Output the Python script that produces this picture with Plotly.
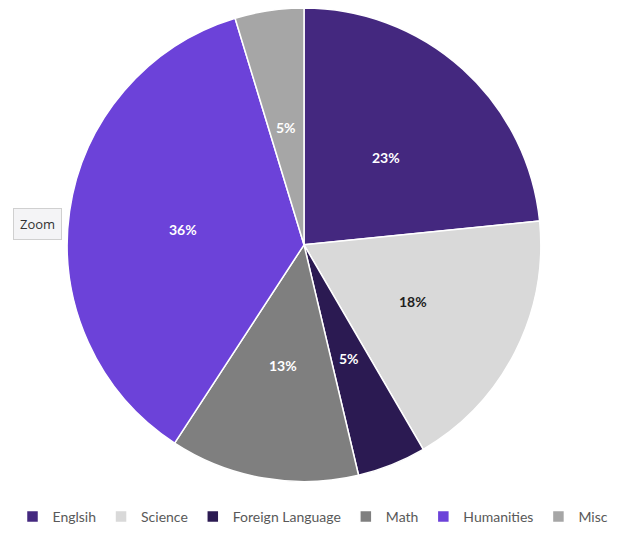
import numpy as np
import plotly.graph_objects as go

categories = ["Englsih", "Science", "Foreign Language", "Math", "Humanities", "Misc"]
values = [23.4, 18.2, 4.7, 12.9, 36.1, 4.7]
colors = ["#44287f", "#d9d9d9", "#2b1a52", "#7f7f7f", "#6c42d9", "#a6a6a6"]
text_colors = ["white", "#1e1e1e", "white", "white", "white", "white"]

W, H = 610, 525  # page has an 8px body margin
dom_x = [56 / W, 536 / W]
dom_y = [1 - 480 / H, 1.0]

fig = go.Figure(go.Pie(
    labels=categories,
    values=values,
    sort=False,
    direction="clockwise",
    rotation=0,
    marker=dict(colors=colors, line=dict(color="white", width=1.5)),
    textinfo="none",
    hoverinfo="label+percent",
    domain=dict(x=dom_x, y=dom_y),
))

# Data labels placed at about half the radius, along each slice's mid-angle
vals = np.array(values, dtype=float)
frac = vals / vals.sum()
mid = (np.cumsum(frac) - frac / 2) * 2 * np.pi  # clockwise from 12 o'clock
cx_px = (dom_x[0] + dom_x[1]) / 2 * W
cy_px = (1 - (dom_y[0] + dom_y[1]) / 2) * H
r_px = min((dom_x[1] - dom_x[0]) * W, (dom_y[1] - dom_y[0]) * H) / 2
label_r = 0.51 * r_px

annotations = []
for f, a, tc in zip(frac, mid, text_colors):
    px = cx_px + label_r * np.sin(a)
    py = cy_px - label_r * np.cos(a) + 2
    annotations.append(dict(
        x=px / W, y=1 - py / H, xref="paper", yref="paper",
        xanchor="center", yanchor="middle", showarrow=False,
        text=f"<b>{round(f * 100):.0f}%</b>",
        font=dict(family="Lato", size=14, color=tc),
    ))

annotations.append(dict(
    x=29 / W, y=1 - 219 / H, xref="paper", yref="paper",
    xanchor="center", yanchor="middle",
    text="Zoom", showarrow=False,
    font=dict(family="Open Sans", size=13, color="#333333"),
    bgcolor="#f4f4f6", bordercolor="#d0d0d0", borderwidth=1, borderpad=6,
))

fig.update_layout(
    width=W, height=H,
    margin=dict(l=0, r=0, t=0, b=0),
    paper_bgcolor="white",
    plot_bgcolor="white",
    showlegend=True,
    legend=dict(
        orientation="h",
        x=0.5, xanchor="center",
        y=1 - 516 / H, yanchor="middle",
        font=dict(family="Lato", size=14, color="#595959"),
        itemwidth=30,
        tracegroupgap=0,
    ),
    annotations=annotations,
)

fig.write_html("out.html")
